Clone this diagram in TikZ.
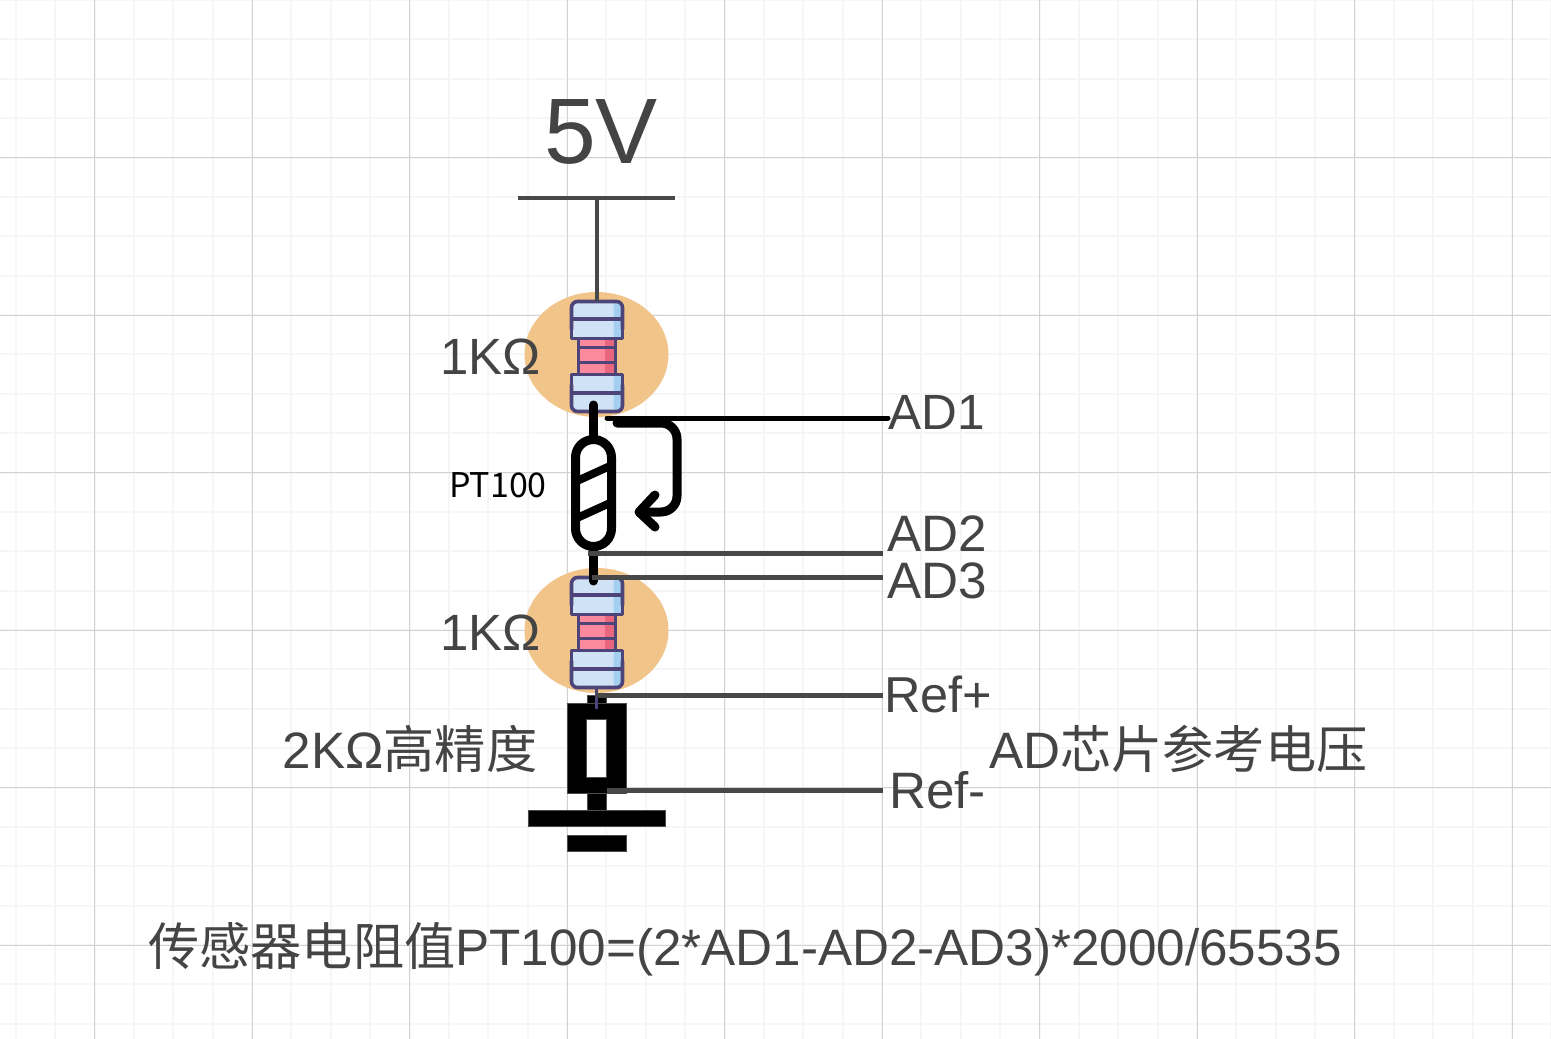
\documentclass[tikz,border=0pt]{standalone}
\usepackage{fontspec}
\setmainfont{Liberation Sans}
\newfontfamily\cjk{Noto Sans CJK SC}
\newcommand{\fs}[1]{\fontsize{#1}{#1}\selectfont}
\definecolor{ink}{HTML}{444444}
\definecolor{wire}{HTML}{484848}
\definecolor{purp}{HTML}{4D4479}
\definecolor{capb}{HTML}{D0E3F6}
\definecolor{capd}{HTML}{A5CFF0}
\definecolor{bodyp}{HTML}{FC8A9C}
\definecolor{bodyd}{HTML}{E9667F}
\definecolor{halo}{HTML}{F1C48A}
\definecolor{gridminor}{HTML}{F6F6F6}
\definecolor{gridmajor}{HTML}{D2D2D2}
\tikzset{
  lbl/.style={anchor=base west,inner sep=0pt,text=ink},
  wireline/.style={draw=wire,line width=5pt},
  blk/.style={fill=black,draw=black!70,line width=.5pt},
  thick pen/.style={draw=black,line width=9pt,line cap=round,line join=round},
  purpline/.style={draw=purp,line width=3.6pt,line join=round},
  resistorpic/.pic={
    \fill[halo] (0,0) ellipse [x radius=72,y radius=62.5];
    % body
    \fill[bodyp] (-18,-17) rectangle (19,21);
    \fill[bodyd] (8,-17) rectangle (19,21);
    \draw[purpline] (-18,-17) -- (-18,21) (19,-17) -- (19,21);
    \draw[purpline] (-18,-7) -- (19,-7) (-18,8) -- (19,8);
    % upper cap
    \fill[capb,rounded corners=6pt] (-25,-16) -- (-25,-53) -- (26,-53) -- (26,-16) -- cycle;
    \fill[capd,rounded corners=5pt] (17,-16) -- (17,-53) -- (26,-53) -- (26,-16) -- cycle;
    \fill[capd] (17,-53) rectangle (21,-16);
    \draw[purpline,rounded corners=6pt] (-25,-25) -- (-25,-53) -- (26,-53) -- (26,-25);
    \draw[purpline] (-25,-26) -- (-25,-16) -- (26,-16) -- (26,-26);
    \draw[purpline] (-25,-35.5) -- (26,-35.5);
    % lower cap
    \fill[capb,rounded corners=6pt] (-25,20) -- (-25,57) -- (26,57) -- (26,20) -- cycle;
    \fill[capd,rounded corners=5pt] (17,20) -- (17,57) -- (26,57) -- (26,20) -- cycle;
    \fill[capd] (17,20) rectangle (21,57);
    \draw[purpline,rounded corners=6pt] (-25,30) -- (-25,57) -- (26,57) -- (26,30);
    \draw[purpline] (-25,31) -- (-25,20) -- (26,20) -- (26,31);
    \draw[purpline] (-25,38.5) -- (26,38.5);
  }
}
\begin{document}
\begin{tikzpicture}[x=1pt,y=-1pt]
\useasboundingbox (0,0) rectangle (1551,1039);
\fill[white] (0,0) rectangle (1551,1039);
% grid
\foreach \i in {0,...,39}{
  \draw[draw=gridminor,line width=2pt] ({15.75+39.375*\i},0) -- ({15.75+39.375*\i},1039);
}
\foreach \i in {0,...,26}{
  \draw[draw=gridminor,line width=2pt] (0,{39.375*\i}) -- (1551,{39.375*\i});
}
\foreach \i in {0,...,9}{
  \draw[draw=gridmajor,line width=1pt] ({94.5+157.5*\i},0) -- ({94.5+157.5*\i},1039);
}
\foreach \i in {1,...,6}{
  \draw[draw=gridmajor,line width=1pt] (0,{157.5*\i}) -- (1551,{157.5*\i});
}
% named points
\coordinate (barL) at (518,198);
\coordinate (barR) at (675,198);
\coordinate (vccT) at (597,198);
\coordinate (vccB) at (597,301);
\coordinate (ad1a) at (607,418);
\coordinate (ad1b) at (888,418);
\coordinate (ad2a) at (588,553);
\coordinate (ad2b) at (883,553);
\coordinate (ad3a) at (592,577);
\coordinate (ad3b) at (883,577);
\coordinate (refpa) at (596,695);
\coordinate (refpb) at (883,695);
\coordinate (refma) at (607,790);
\coordinate (refmb) at (883,790);
% resistors
\pic at (596.5,354.5) {resistorpic};
\pic at (596.5,630.5) {resistorpic};
% 5V rail
\draw[draw=wire,line width=4pt] (barL) -- (barR);
\draw[draw=wire,line width=3.6pt] (vccT) -- (vccB);
% PT100
\draw[thick pen] (593.5,405) -- (593.5,437);
\draw[thick pen] (593.5,551) -- (593.5,581);
\draw[thick pen,fill=white,rounded corners=18pt] (575.5,439.5) rectangle (611.5,546.5);
\draw[draw=black,line width=8pt] (577,481) -- (610,466);
\draw[draw=black,line width=8pt] (577,518) -- (610,503);
% arrow
\draw[draw=black,line width=5pt,line cap=round] (ad1a) -- (ad1b);
\draw[thick pen,rounded corners=16pt] (617,423) -- (677,423) -- (677,512) -- (641,512);
\draw[thick pen] (655,495) -- (639,512) -- (655,527);
% 2K block
\fill[blk] (587,695) rectangle (606,703);
\path[blk,even odd rule] (567,703.5) rectangle (626,793) (586.5,719.5) rectangle (606.5,777.5);
\fill[blk] (587,793) rectangle (606,810);
\fill[blk] (528,810) rectangle (665.5,826);
\fill[blk] (567,835) rectangle (626,851);
\draw[draw=purp,line width=3.4pt] (596.5,688) -- (596.5,709);
% wires
\draw[wireline] (ad2a) -- (ad2b);
\draw[wireline] (ad3a) -- (ad3b);
\draw[wireline] (refpa) -- (refpb);
\draw[wireline] (refma) -- (refmb);
% labels
\node[lbl,font=\fs{93}] (t5v) at (544,163) {5V};
\node[lbl,font=\fs{51}] (r1) at (440,374) {1KΩ};
\node[lbl,font=\fs{51}] (r2) at (440,650) {1KΩ};
\node[lbl,font={\cjk\fs{34}},text=black] (pt) at (449,497) {PT100};
\node[lbl,font=\fs{49.5}] (ad1) at (888.5,429.5) {AD1};
\node[lbl,font=\fs{51.2}] (ad2) at (887.5,551) {AD2};
\node[lbl,font=\fs{51.2}] (ad3) at (887.5,598) {AD3};
\node[lbl,font=\fs{50.5}] (rp) at (884,712) {Ref+};
\node[lbl,font=\fs{51.2}] (rm) at (889,808) {Ref-};
\node[lbl,font=\fs{51.2}] (r3) at (282.5,768) {2KΩ{\cjk 高精度}};
\node[lbl,font=\fs{51.2}] (refv) at (989,768) {AD{\cjk 芯片参考电压}};
\node[lbl,font=\fs{51.2}] (formula) at (148,965) {{\cjk 传感器电阻值}PT100=(2*AD1-AD2-AD3)*2000/65535};
\end{tikzpicture}
\end{document}
